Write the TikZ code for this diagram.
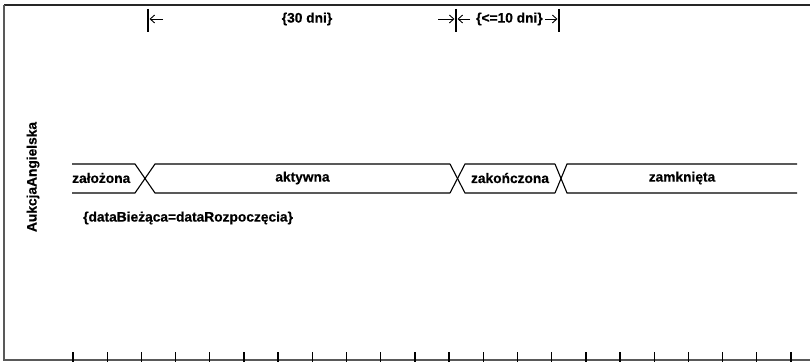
\documentclass[tikz,border=0pt]{standalone}
\usepackage{fontspec}
\setmainfont{Liberation Sans}
\newfontfamily\lblfont{Liberation Sans Bold}[FakeBold=0.6]
\usetikzlibrary{arrows.meta}
\begin{document}
\begin{tikzpicture}[x=1pt,y=-1pt,
  lbl/.style={font=\lblfont\fontsize{13.75}{16}\selectfont, inner sep=0pt},
  sig/.style={line width=1.1pt, black},
  frametop/.style={line width=1.6pt, black!85},
  frameside/.style={line width=1.8pt, black!65},
  tickmark/.style={line width=1.3pt, black},
  bar/.style={line width=1.3pt, black},
  tarr/.style={-{Straight Barb[length=4.5pt,width=8pt]}, line width=0.9pt}]
\useasboundingbox (0,0) rectangle (810,363);
% frame
\draw[frametop] (4,5) -- (810,5);
\draw[frameside] (4,5) -- (4,360) -- (810,360);
% ticks
\foreach \i in {0,...,21}
  \draw[tickmark] ({73+34.19*\i},352) -- ({73+34.19*\i},362);
% lifeline label
\node[lbl, rotate=90] (life) at (33,177) {AukcjaAngielska};
% signal segments
\draw[sig] (72,164) -- (135,164) -- (145,178.5) -- (135,193) -- (72,193);
\draw[sig] (450,164) -- (155,164) -- (145,178.5) -- (155,193) -- (450,193);
\draw[sig] (450,164) -- (457.5,178.5) -- (450,193);
\draw[sig] (555,164) -- (465,164) -- (457.5,178.5) -- (465,193) -- (555,193);
\draw[sig] (555,164) -- (561,178.5) -- (555,193);
\draw[sig] (797,164) -- (567,164) -- (561,178.5) -- (567,193) -- (797,193);
% state labels
\node[lbl, anchor=west] (s1) at (72,178) {założona};
\node[lbl] (s2) at (302.5,178) {aktywna};
\node[lbl] (s3) at (510,178) {zakończona};
\node[lbl] (s4) at (682,178) {zamknięta};
\node[lbl, anchor=west] (cond) at (83,218) {\{dataBieżąca=dataRozpoczęcia\}};
% timing constraints
\coordinate (m1t) at (148,9);  \coordinate (m1b) at (148,32);
\coordinate (m2t) at (456,9);  \coordinate (m2b) at (456,32);
\coordinate (m3t) at (559,9);  \coordinate (m3b) at (559,32);
\draw[bar] (m1t) -- (m1b);
\draw[bar] (m2t) -- (m2b);
\draw[bar] (m3t) -- (m3b);
\coordinate (a1s) at (163,19); \coordinate (a1e) at (149.5,19);
\coordinate (a2s) at (438,19); \coordinate (a2e) at (454.5,19);
\coordinate (a3s) at (470,19); \coordinate (a3e) at (457.5,19);
\coordinate (a4s) at (545,19); \coordinate (a4e) at (557.5,19);
\draw[tarr] (a1s) -- (a1e);
\draw[tarr] (a2s) -- (a2e);
\draw[tarr] (a3s) -- (a3e);
\draw[tarr] (a4s) -- (a4e);
\node[lbl] (d30) at (307,19) {\{30 dni\}};
\node[lbl, anchor=west] (d10) at (476,19) {\{<=10 dni\}};
\end{tikzpicture}
\end{document}
